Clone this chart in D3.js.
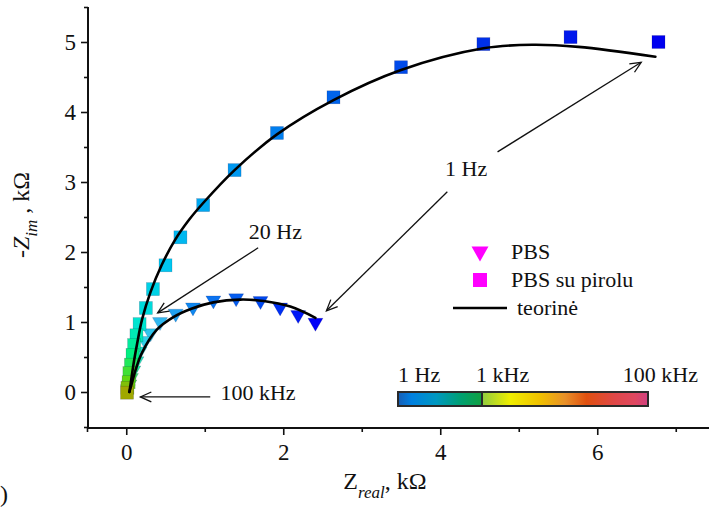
<!DOCTYPE html>
<html>
<head>
<meta charset="utf-8">
<script src="https://cdn.jsdelivr.net/npm/d3@7"></script>
<style>
  html, body { margin: 0; padding: 0; background: #fff; }
  svg { display: block; }
  text { font-family: "Liberation Serif", "Times New Roman", serif; fill: #111; }
</style>
</head>
<body>
<svg id="chart" width="709" height="508"></svg>
<script>
// Nyquist data, kΩ: [Z_real, -Z_im], ordered from 1 Hz towards 100 kHz
const pbsPoints = [
  [2.41, 0.96], [2.19, 1.07], [1.96, 1.18], [1.71, 1.27], [1.40, 1.31],
  [1.11, 1.28], [0.85, 1.18], [0.63, 1.09], [0.43, 0.97], [0.31, 0.81],
  [0.24, 0.70], [0.17, 0.55], [0.13, 0.41], [0.09, 0.28], [0.06, 0.17],
  [0.04, 0.08], [0.02, 0.01]
];
const pirolPoints = [
  [6.78, 5.00], [5.66, 5.07], [4.55, 4.97], [3.50, 4.64], [2.64, 4.21],
  [1.92, 3.70], [1.38, 3.17], [0.98, 2.67], [0.69, 2.21], [0.50, 1.81],
  [0.34, 1.47], [0.25, 1.20], [0.17, 0.97], [0.13, 0.81], [0.10, 0.67],
  [0.08, 0.53], [0.06, 0.39], [0.04, 0.27], [0.03, 0.14], [0.015, 0.06],
  [0.01, -0.01]
];
// Fitted (theoretical) curves
const pbsFit = [
  [0.04, 0.0], [0.07, 0.12], [0.12, 0.32], [0.20, 0.56], [0.39, 0.89],
  [0.60, 1.07], [0.83, 1.19], [1.11, 1.28], [1.45, 1.32], [1.75, 1.30],
  [2.09, 1.22], [2.41, 1.06]
];
const pirolFit = [
  [0.04, 0.0], [0.06, 0.15], [0.10, 0.45], [0.14, 0.70], [0.20, 1.03],
  [0.31, 1.43], [0.45, 1.81], [0.62, 2.17], [0.80, 2.46], [0.98, 2.70],
  [1.38, 3.17], [1.92, 3.68], [2.64, 4.17], [3.50, 4.60],
  [4.55, 4.91], [5.17, 4.96], [5.76, 4.93], [6.74, 4.79]
];
const xTicks = [0, 2, 4, 6];
const xMinorTicks = [-0.5, 1, 3, 5, 7];
const yTicks = [0, 1, 2, 3, 4, 5];
const yMinorTicks = [-0.5, 0.5, 1.5, 2.5, 3.5, 4.5, 5.5];
const seriesNames = ["PBS", "PBS su pirolu", "teorinė"];
const colorbarLabels = ["1 Hz", "1 kHz", "100 kHz"];
// Frequency annotations: text and arrows (from -> to), in data units
const annotations = [
  { text: "1 Hz", at: [4.33, 3.09], anchor: "middle",
    arrows: [[[4.73, 3.43], [6.56, 4.71]], [[4.09, 2.86], [2.55, 1.16]]] },
  { text: "20 Hz", at: [1.90, 2.19], anchor: "middle",
    arrows: [[[1.68, 2.06], [0.40, 1.13]]] },
  { text: "100 kHz", at: [1.20, -0.11], anchor: "start",
    arrows: [[[1.07, -0.07], [0.18, -0.07]]] }
];

const svg = d3.select("#chart");
const x = d3.scaleLinear().domain([-0.5, 7.5]).range([87, 715]);
const y = d3.scaleLinear().domain([-0.5, 5.5]).range([427, 7]);
const axisY0 = 428;

// colour of each marker, running from blue (1 Hz) through cyan to green
const triColor = d3.scaleLinear()
  .domain([0, 3, 6, 8, 10, 13, 16])
  .range(["#0000f8", "#0048f0", "#1088f0", "#30b8f0", "#30d0e8", "#20e8a0", "#70d020"]);
const sqColor = d3.scaleLinear()
  .domain([0, 2, 6, 9, 12, 15, 18, 20])
  .range(["#0000f0", "#0030e8", "#0098f0", "#00c8f0", "#00e4d0", "#00f080", "#60d810", "#a0a800"]);

// axes
const gx = svg.append("g").attr("transform", `translate(0,${axisY0})`);
gx.call(d3.axisBottom(x).tickValues(xTicks).tickSize(7).tickPadding(9).tickFormat(d3.format("d")));
gx.append("g").call(d3.axisBottom(x).tickValues(xMinorTicks).tickSize(4).tickFormat(""))
  .select(".domain").remove();
const gy = svg.append("g").attr("transform", `translate(88,0)`);
gy.call(d3.axisLeft(y).tickValues(yTicks).tickSize(7).tickPadding(5).tickFormat(d3.format("d")));
gy.append("g").call(d3.axisLeft(y).tickValues(yMinorTicks).tickSize(4).tickFormat(""))
  .select(".domain").remove();
svg.selectAll(".domain").attr("stroke", "#111").attr("stroke-width", 2);
svg.selectAll(".tick line").attr("stroke", "#111").attr("stroke-width", 1.6);
svg.selectAll(".tick text").style("font-family", '"Liberation Serif", serif')
  .style("font-size", "23px").attr("fill", "#111");
gx.select(".domain").attr("d", `M${x(-0.5)},0H709`);
gy.select(".domain").attr("d", `M0,${y(5.5)}V${axisY0}`);

// axis titles
const xt = svg.append("text").attr("x", 385).attr("y", 489)
  .attr("text-anchor", "middle").style("font-size", "24px");
xt.append("tspan").text("Z");
xt.append("tspan").attr("dy", 9).style("font-size", "17px").style("font-style", "italic").text("real");
xt.append("tspan").attr("dy", -9).text(", kΩ");

const yt = svg.append("text").attr("transform", "translate(29,215) rotate(-90)")
  .attr("text-anchor", "middle").style("font-size", "24px");
yt.append("tspan").text("-");
yt.append("tspan").style("font-style", "italic").text("Z");
yt.append("tspan").attr("dy", 8).style("font-size", "17px").style("font-style", "italic").text("im");
yt.append("tspan").attr("dy", -8).text(" , kΩ");

// panel letter at the lower left
svg.append("text").attr("x", 0).attr("y", 502).attr("text-anchor", "start")
  .style("font-size", "24px").text(")");

// markers
const triPath = (w, h) => `M${-w/2},${-h/2}L${w/2},${-h/2}L0,${h/2}Z`;
svg.append("g").selectAll("path").data(pbsPoints).join("path")
  .attr("d", triPath(15, 13))
  .attr("transform", d => `translate(${x(d[0])},${y(d[1])})`)
  .attr("fill", (d, i) => triColor(i))
  .attr("stroke", "rgba(0,0,60,0.25)").attr("stroke-width", 0.6);

svg.append("g").selectAll("rect").data(pirolPoints).join("rect")
  .attr("x", d => x(d[0]) - 6.5).attr("y", d => y(d[1]) - 6.5)
  .attr("width", 13).attr("height", 13)
  .attr("fill", (d, i) => sqColor(i))
  .attr("stroke", "rgba(0,0,60,0.25)").attr("stroke-width", 0.6);

// fitted curves
const line = d3.line().x(d => x(d[0])).y(d => y(d[1])).curve(d3.curveCatmullRom.alpha(0.5));
[pbsFit, pirolFit].forEach(c => {
  svg.append("path").datum(c).attr("d", line)
    .attr("fill", "none").attr("stroke", "#000").attr("stroke-width", 2.6)
    .attr("stroke-linecap", "round");
});

// annotations with open arrowheads
function arrow(g, p0, p1) {
  const [x0, y0] = [x(p0[0]), y(p0[1])];
  const [x1, y1] = [x(p1[0]), y(p1[1])];
  const a = Math.atan2(y1 - y0, x1 - x0);
  const L = 12, s = 0.42;
  g.append("line").attr("x1", x0).attr("y1", y0).attr("x2", x1).attr("y2", y1);
  g.append("path").attr("fill", "none")
    .attr("d", `M${x1 - L * Math.cos(a - s)},${y1 - L * Math.sin(a - s)}L${x1},${y1}L${x1 - L * Math.cos(a + s)},${y1 - L * Math.sin(a + s)}`);
}
const ga = svg.append("g").attr("stroke", "#111").attr("stroke-width", 1.3);
annotations.forEach(an => {
  an.arrows.forEach(ar => arrow(ga, ar[0], ar[1]));
  svg.append("text").attr("x", x(an.at[0])).attr("y", y(an.at[1]))
    .attr("text-anchor", an.anchor).style("font-size", "22px").text(an.text);
});

// legend
const lg = svg.append("g");
lg.append("path").attr("d", triPath(17, 15)).attr("transform", "translate(480,254)").attr("fill", "#ff00ff");
lg.append("rect").attr("x", 473).attr("y", 273).attr("width", 14).attr("height", 14).attr("fill", "#ff00ff");
lg.append("line").attr("x1", 453).attr("x2", 507).attr("y1", 308).attr("y2", 308)
  .attr("stroke", "#000").attr("stroke-width", 2.6);
lg.append("text").attr("x", 511).attr("y", 259).style("font-size", "22px").text(seriesNames[0]);
lg.append("text").attr("x", 511).attr("y", 287).style("font-size", "22px").text(seriesNames[1]);
lg.append("text").attr("x", 517).attr("y", 315).style("font-size", "22px").text(seriesNames[2]);

// frequency colour bar
const defs = svg.append("defs");
const gLow = defs.append("linearGradient").attr("id", "cbLow");
[["0%", "#1660b8"], ["15%", "#0080e0"], ["45%", "#0098c0"], ["75%", "#00a070"], ["100%", "#10a040"]]
  .forEach(s => gLow.append("stop").attr("offset", s[0]).attr("stop-color", s[1]));
const gHigh = defs.append("linearGradient").attr("id", "cbHigh");
[["0%", "#90cc40"], ["17%", "#f0ee00"], ["35%", "#f0c000"], ["50%", "#e89028"], ["63%", "#e05010"],
 ["80%", "#e04848"], ["92%", "#e04860"], ["100%", "#d04080"]]
  .forEach(s => gHigh.append("stop").attr("offset", s[0]).attr("stop-color", s[1]));
svg.append("rect").attr("x", 399).attr("y", 392).attr("width", 83).attr("height", 14).attr("fill", "url(#cbLow)");
svg.append("rect").attr("x", 482).attr("y", 392).attr("width", 166).attr("height", 14).attr("fill", "url(#cbHigh)");
svg.append("rect").attr("x", 398).attr("y", 392).attr("width", 250).attr("height", 14)
  .attr("fill", "none").attr("stroke", "#2a2a2a").attr("stroke-width", 2);
svg.append("line").attr("x1", 482).attr("x2", 482).attr("y1", 392).attr("y2", 406)
  .attr("stroke", "#2a2a2a").attr("stroke-width", 2);
svg.append("text").attr("x", 398).attr("y", 382).style("font-size", "22px").text(colorbarLabels[0]);
svg.append("text").attr("x", 476).attr("y", 382).style("font-size", "22px").text(colorbarLabels[1]);
svg.append("text").attr("x", 698).attr("y", 382).attr("text-anchor", "end").style("font-size", "22px").text(colorbarLabels[2]);
</script>
</body>
</html>
